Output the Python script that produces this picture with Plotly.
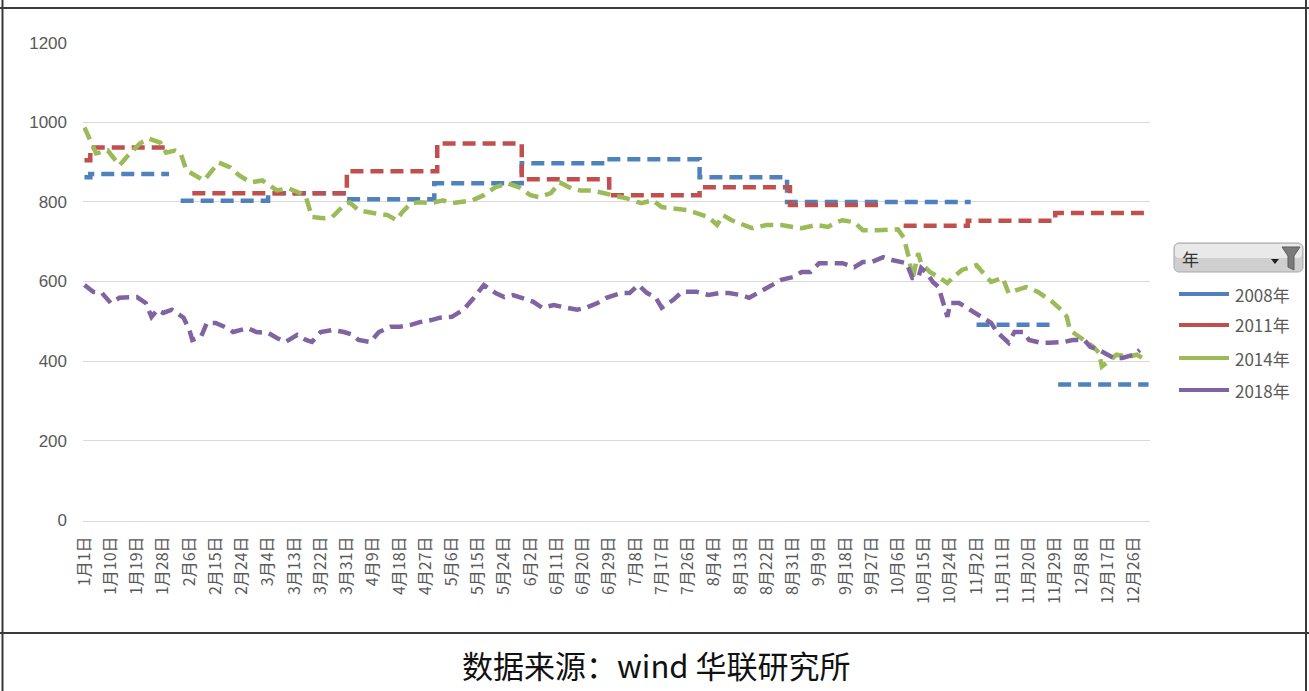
import math
import plotly.graph_objects as go

# ---- data: day-of-year positions (1 = 1月1日) and prices ----
TICK_DAYS = list(range(1, 362, 9))
TICK_LABELS = [
    "1月1日", "1月10日", "1月19日", "1月28日", "2月6日", "2月15日", "2月24日",
    "3月4日", "3月13日", "3月22日", "3月31日", "4月9日", "4月18日", "4月27日",
    "5月6日", "5月15日", "5月24日", "6月2日", "6月11日", "6月20日", "6月29日",
    "7月8日", "7月17日", "7月26日", "8月4日", "8月13日", "8月22日", "8月31日",
    "9月9日", "9月18日", "9月27日", "10月6日", "10月15日", "10月24日", "11月2日",
    "11月11日", "11月20日", "11月29日", "12月8日", "12月17日", "12月26日",
]

# 2008 / 2011 are stepwise series (value holds until next change); None = no quote
DAY_2008 = [1, 3, 30, 32, 34, 64, 91, 121, 151, 180, 212, 242, 305, 306, 307, 333, 334, 335, 366]
VAL_2008 = [862, 870, 870, None, 803, 822, 807, 847, 897, 907, 862, 800, 800, None, 491, 491, None, 341, 341]

DAY_2011 = [1, 3, 29, 33, 38, 91, 122, 151, 181, 212, 243, 275, 278, 282, 304, 334, 365]
VAL_2011 = [905, 937, 937, None, 822, 877, 947, 857, 817, 837, 792, 792, None, 740, 753, 772, 772]

DAY_2014 = [1, 5, 9, 13, 16, 20, 23, 27, 29, 32, 34, 36, 42, 47, 51, 54, 58, 62, 67, 71,
            75, 77, 79, 83, 86, 90, 92, 95, 100, 105, 108, 110, 113, 116, 120, 124, 127,
            134, 138, 142, 146, 150, 154, 157, 161, 164, 168, 171, 175, 179, 182, 187, 192,
            196, 199, 203, 208, 211, 215, 218, 220, 223, 227, 230, 235, 240, 244, 247, 252,
            256, 259, 261, 265, 268, 273, 280, 282, 284, 285, 287, 288, 291, 294, 297, 299,
            302, 305, 307, 309, 312, 316, 318, 321, 324, 328, 331, 333, 336, 338, 339, 342,
            345, 347, 349, 350, 353, 355, 359, 362, 365]
VAL_2014 = [987, 922, 929, 892, 917, 947, 959, 949, 924, 929, 922, 879, 854, 899, 887, 867, 849, 854, 829, 834,
            822, 812, 762, 759, 762, 792, 799, 779, 772, 767, 754, 774, 797, 799, 797, 804, 797,
            804, 817, 837, 847, 837, 817, 812, 822, 849, 834, 829, 829, 822, 817, 809, 797,
            804, 787, 784, 779, 772, 762, 742, 767, 754, 742, 734, 742, 742, 737, 734, 742,
            737, 749, 754, 749, 729, 729, 731, 711, 654, 604, 671, 646, 624, 611, 596, 611,
            629, 636, 641, 624, 599, 609, 571, 579, 586, 574, 559, 549, 529, 511, 478, 461,
            446, 436, 421, 386, 403, 416, 411, 416, 403]

DAY_2018 = [1, 4, 7, 10, 13, 17, 19, 22, 24, 26, 28, 31, 35, 37, 38, 41, 43, 46, 50, 52,
            57, 60, 64, 67, 70, 74, 77, 79, 82, 86, 90, 93, 95, 99, 102, 106, 109, 113, 116,
            120, 123, 127, 131, 134, 137, 138, 142, 145, 148, 151, 155, 158, 162, 165, 170,
            173, 177, 180, 185, 188, 191, 194, 197, 199, 203, 206, 211, 215, 219, 222, 226,
            229, 232, 235, 240, 244, 247, 250, 253, 257, 261, 265, 268, 271, 275, 278, 282,
            283, 285, 287, 288, 290, 292, 294, 297, 298, 301, 305, 308, 312, 314, 318, 320,
            323, 325, 329, 332, 337, 340, 344, 346, 349, 352, 354, 357, 361, 363]
VAL_2018 = [591, 574, 571, 546, 559, 559, 561, 546, 511, 529, 521, 529, 509, 478, 453, 461, 496, 496, 483, 473,
            483, 473, 471, 458, 448, 466, 453, 448, 473, 478, 473, 466, 453, 448, 473, 486, 486, 491, 498,
            503, 509, 511, 529, 554, 579, 591, 571, 561, 566, 559, 549, 534, 541, 536, 529,
            534, 546, 559, 571, 571, 591, 571, 559, 534, 554, 574, 574, 566, 571, 571, 566,
            559, 571, 586, 604, 611, 624, 624, 646, 646, 646, 636, 649, 649, 661, 654, 649,
            646, 609, 609, 634, 621, 599, 586, 511, 546, 546, 529, 516, 496, 473, 446, 473,
            473, 453, 446, 446, 448, 453, 453, 436, 428, 416, 408, 408, 416, 428]

SERIES = [
    ("2008年", DAY_2008, VAL_2008, "#4f81bd", "hv"),
    ("2011年", DAY_2011, VAL_2011, "#c0504d", "hv"),
    ("2014年", DAY_2014, VAL_2014, "#9bbb59", "linear"),
    ("2018年", DAY_2018, VAL_2018, "#8064a2", "linear"),
]

SOURCE_TEXT = "数据来源：wind 华联研究所"

# ---- page geometry ----
W, H = 1309, 691
ML, MR, MT, MB = 83, 159, 42, 170
PW, PH = W - ML - MR, H - MT - MB


def px(x):
    return (x - ML) / PW


def py(y):
    return (H - MB - y) / PH


def path_of(points, close=True):
    s = "M " + " L ".join(f"{px(a):.5f},{py(b):.5f}" for a, b in points)
    return s + (" Z" if close else "")


def rounded_rect(x0, y0, x1, y1, r):
    pts = []
    corners = [(x1 - r, y0 + r, -90, 0), (x1 - r, y1 - r, 0, 90),
               (x0 + r, y1 - r, 90, 180), (x0 + r, y0 + r, 180, 270)]
    for cx, cy, a0, a1 in corners:
        for k in range(7):
            a = math.radians(a0 + (a1 - a0) * k / 6)
            pts.append((cx + r * math.cos(a), cy + r * math.sin(a)))
    return path_of(pts)


fig = go.Figure()

for name, days, vals, color, shape in SERIES:
    fig.add_trace(go.Scatter(
        x=days, y=vals, name=name, mode="lines", connectgaps=False,
        line=dict(color=color, width=4.5, dash="13px,7px", shape=shape),
        showlegend=False,
    ))

shapes = []
frame = dict(color="#3a3a3a", width=2)
# outer frame and separator above the source line
shapes.append(dict(type="line", xref="paper", yref="paper", x0=px(2.5), x1=px(2.5), y0=py(0), y1=py(H), line=frame))
shapes.append(dict(type="line", xref="paper", yref="paper", x0=px(1306), x1=px(1306), y0=py(0), y1=py(H), line=frame))
shapes.append(dict(type="line", xref="paper", yref="paper", x0=px(0), x1=px(W), y0=py(8), y1=py(8), line=frame))
shapes.append(dict(type="line", xref="paper", yref="paper", x0=px(0), x1=px(W), y0=py(633), y1=py(633), line=frame))

# legend header button
shapes.append(dict(type="path", xref="paper", yref="paper", path=rounded_rect(1174, 243, 1303, 272, 5),
                   fillcolor="#cfcfcf", line=dict(width=0), layer="above"))
shapes.append(dict(type="path", xref="paper", yref="paper", path=rounded_rect(1175, 244, 1302, 258, 4),
                   fillcolor="#e9e9e9", line=dict(width=0), layer="above"))
shapes.append(dict(type="path", xref="paper", yref="paper", path=rounded_rect(1174, 243, 1303, 272, 5),
                   fillcolor="rgba(0,0,0,0)", line=dict(color="#a8a8a8", width=1), layer="above"))
# dropdown arrow and funnel icon
shapes.append(dict(type="path", xref="paper", yref="paper",
                   path=path_of([(1271, 259), (1279, 259), (1275, 264)]),
                   fillcolor="#202020", line=dict(width=0), layer="above"))
shapes.append(dict(type="path", xref="paper", yref="paper",
                   path=path_of([(1282, 247), (1300, 247), (1294, 256), (1294, 270), (1288, 267), (1288, 256)]),
                   fillcolor="#7a7a7a", line=dict(color="#5e5e5e", width=1), layer="above"))

annotations = []
annotations.append(dict(x=px(1180), y=py(258), xref="paper", yref="paper", text="年", showarrow=False,
                        xanchor="left", yanchor="middle",
                        font=dict(family="Noto Sans CJK SC", size=17, color="#333333")))

legend_y = [294, 325, 358, 390]
for (name, _, _, color, _), ly in zip(SERIES, legend_y):
    shapes.append(dict(type="line", xref="paper", yref="paper", x0=px(1179), x1=px(1229),
                       y0=py(ly), y1=py(ly), line=dict(color=color, width=4), layer="above"))
    annotations.append(dict(x=px(1233), y=py(ly), xref="paper", yref="paper", text=name, showarrow=False,
                            xanchor="left", yanchor="middle",
                            font=dict(family="Noto Sans CJK SC", size=17, color="#595959")))

annotations.append(dict(x=px(656), y=py(664), xref="paper", yref="paper", text=SOURCE_TEXT, showarrow=False,
                        xanchor="center", yanchor="middle",
                        font=dict(family="Noto Sans CJK SC", size=31, color="#111111")))

fig.update_layout(
    width=W, height=H,
    margin=dict(l=ML, r=MR, t=MT, b=MB, pad=0),
    paper_bgcolor="white", plot_bgcolor="white",
    shapes=shapes, annotations=annotations,
    showlegend=False,
    xaxis=dict(
        range=[0.5, 366.5], tickmode="array", tickvals=TICK_DAYS, ticktext=TICK_LABELS,
        tickangle=-90, showgrid=False, zeroline=False, ticks="",
        showline=True, linecolor="#d9d9d9", linewidth=1,
        tickfont=dict(family="Noto Sans CJK SC", size=16, color="#595959"),
        ticklabelstandoff=8,
    ),
    yaxis=dict(
        range=[-2, 1202], tickmode="array", tickvals=[0, 200, 400, 600, 800, 1000, 1200],
        showgrid=True, gridcolor="#d9d9d9", gridwidth=1, zeroline=False, ticks="",
        showline=False,
        tickfont=dict(family="Liberation Sans", size=17, color="#595959"),
        ticklabelstandoff=15,
    ),
)

fig.write_html("out.html")
